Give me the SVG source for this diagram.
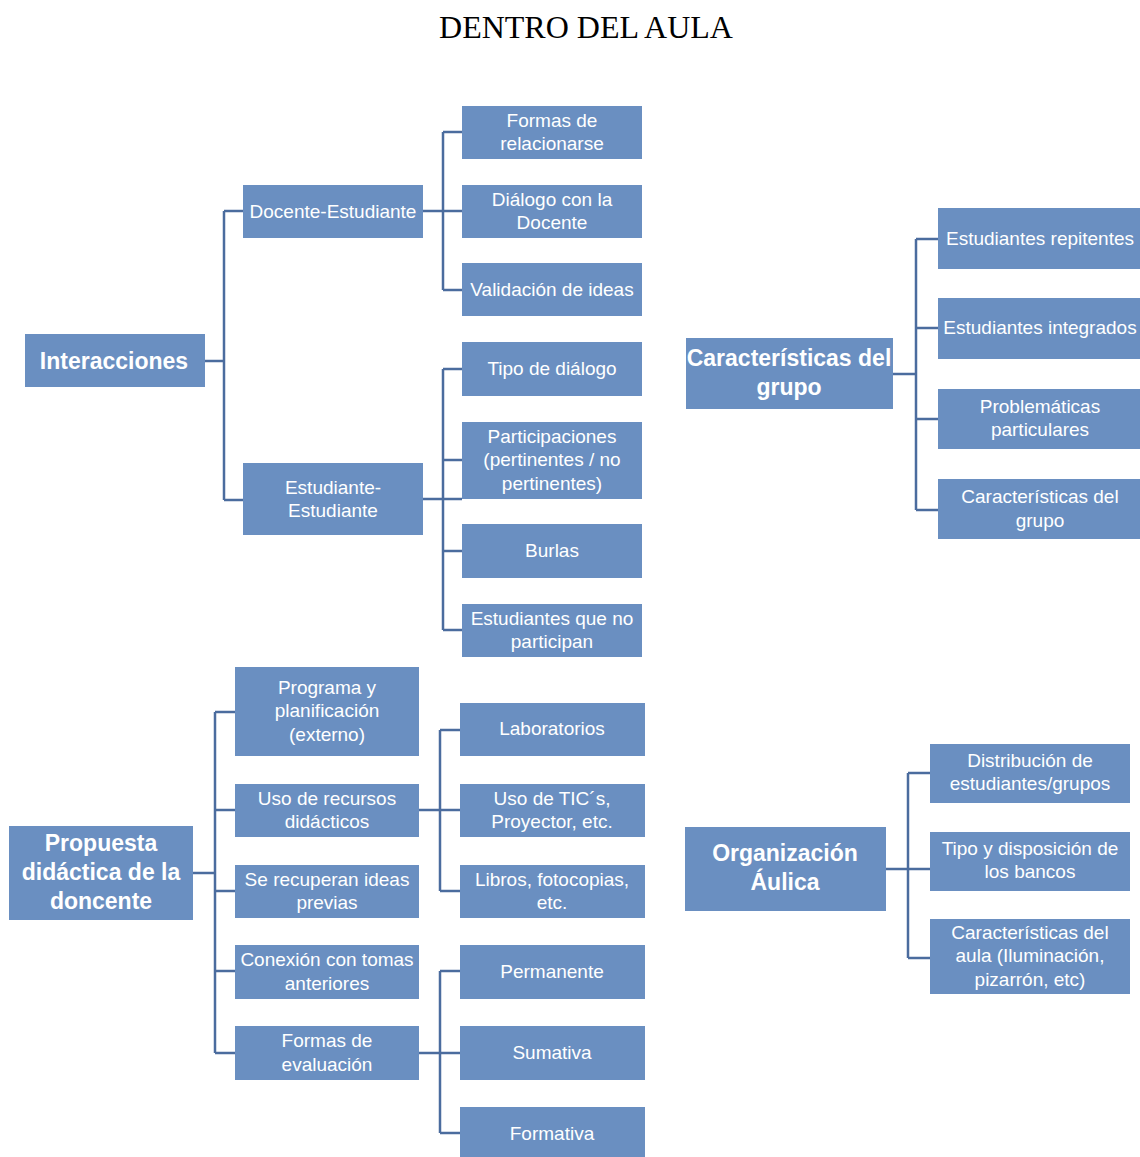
<svg xmlns="http://www.w3.org/2000/svg" width="1140" height="1157" viewBox="0 0 1140 1157">
<style>
.b{fill:#6a8fc1;}
.t{fill:#ffffff;font-family:"Liberation Sans",Arial,sans-serif;font-size:19px;text-anchor:middle;}
.h{fill:#ffffff;font-family:"Liberation Sans",Arial,sans-serif;font-size:23px;font-weight:bold;text-anchor:middle;}
.c{fill:none;stroke:#4b6c9e;stroke-width:2.5;}
</style>
<rect width="1140" height="1157" fill="#ffffff"/>
<text x="586" y="38" font-family="Liberation Serif,serif" font-size="32" text-anchor="middle" fill="#000">DENTRO DEL AULA</text>
<g id="connectors">
<path class="c" d="M205 361H224M224 211V500M224 211H243M224 500H243"/>
<path class="c" d="M423 211H462M443 132V290M443 132H462M443 290H462"/>
<path class="c" d="M423 499H462M443 369V630M443 369H462M443 460H462M443 551H462M443 630H462"/>
<path class="c" d="M893 374H916M916 239V510M916 239H938M916 328H938M916 419H938M916 510H938"/>
<path class="c" d="M193 873H215M215 712V1053M215 712H235M215 810H235M215 891H235M215 971H235M215 1053H235"/>
<path class="c" d="M419 810H460M440 730V891M440 730H460M440 891H460"/>
<path class="c" d="M419 1053H460M440 971V1133M440 971H460M440 1133H460"/>
<path class="c" d="M886 869H930M908 773V958M908 773H930M908 958H930"/>
</g>
<g id="interacciones"><rect class="b" x="25" y="334" width="180" height="53"/><text class="h" x="114" y="369">Interacciones</text></g>
<g id="docente-estudiante"><rect class="b" x="243" y="185" width="180" height="53"/><text class="t" x="333" y="218">Docente-Estudiante</text></g>
<g id="estudiante-estudiante"><rect class="b" x="243" y="463" width="180" height="72"/><text class="t" x="333" y="494">Estudiante-</text><text class="t" x="333" y="517">Estudiante</text></g>
<g id="formas-relacionarse"><rect class="b" x="462" y="106" width="180" height="53"/><text class="t" x="552" y="127">Formas de</text><text class="t" x="552" y="150">relacionarse</text></g>
<g id="dialogo-docente"><rect class="b" x="462" y="185" width="180" height="53"/><text class="t" x="552" y="206">Diálogo con la</text><text class="t" x="552" y="229">Docente</text></g>
<g id="validacion"><rect class="b" x="462" y="263" width="180" height="53"/><text class="t" x="552" y="296">Validación de ideas</text></g>
<g id="tipo-dialogo"><rect class="b" x="462" y="342" width="180" height="54"/><text class="t" x="552" y="375">Tipo de diálogo</text></g>
<g id="participaciones"><rect class="b" x="462" y="422" width="180" height="77"/><text class="t" x="552" y="443">Participaciones</text><text class="t" x="552" y="466">(pertinentes / no</text><text class="t" x="552" y="490">pertinentes)</text></g>
<g id="burlas"><rect class="b" x="462" y="524" width="180" height="54"/><text class="t" x="552" y="557">Burlas</text></g>
<g id="no-participan"><rect class="b" x="462" y="604" width="180" height="53"/><text class="t" x="552" y="625">Estudiantes que no</text><text class="t" x="552" y="648">participan</text></g>
<g id="caracteristicas-grupo"><rect class="b" x="686" y="338" width="207" height="71"/><text class="h" x="789" y="366">Características del</text><text class="h" x="789" y="395">grupo</text></g>
<g id="repitentes"><rect class="b" x="938" y="208" width="202" height="61"/><text class="t" x="1040" y="245">Estudiantes repitentes</text></g>
<g id="integrados"><rect class="b" x="938" y="298" width="202" height="61"/><text class="t" x="1040" y="334">Estudiantes integrados</text></g>
<g id="problematicas"><rect class="b" x="938" y="389" width="202" height="60"/><text class="t" x="1040" y="413">Problemáticas</text><text class="t" x="1040" y="436">particulares</text></g>
<g id="caracteristicas-grupo-2"><rect class="b" x="938" y="479" width="202" height="60"/><text class="t" x="1040" y="503">Características del</text><text class="t" x="1040" y="527">grupo</text></g>
<g id="propuesta"><rect class="b" x="9" y="826" width="184" height="94"/><text class="h" x="101" y="851">Propuesta</text><text class="h" x="101" y="880">didáctica de la</text><text class="h" x="101" y="909">doncente</text></g>
<g id="programa"><rect class="b" x="235" y="667" width="184" height="89"/><text class="t" x="327" y="694">Programa y</text><text class="t" x="327" y="717">planificación</text><text class="t" x="327" y="741">(externo)</text></g>
<g id="uso-recursos"><rect class="b" x="235" y="784" width="184" height="53"/><text class="t" x="327" y="805">Uso de recursos</text><text class="t" x="327" y="828">didácticos</text></g>
<g id="ideas-previas"><rect class="b" x="235" y="865" width="184" height="53"/><text class="t" x="327" y="886">Se recuperan ideas</text><text class="t" x="327" y="909">previas</text></g>
<g id="conexion"><rect class="b" x="235" y="945" width="184" height="54"/><text class="t" x="327" y="966">Conexión con tomas</text><text class="t" x="327" y="990">anteriores</text></g>
<g id="formas-evaluacion"><rect class="b" x="235" y="1026" width="184" height="54"/><text class="t" x="327" y="1047">Formas de</text><text class="t" x="327" y="1071">evaluación</text></g>
<g id="laboratorios"><rect class="b" x="460" y="703" width="185" height="53"/><text class="t" x="552" y="735">Laboratorios</text></g>
<g id="tics"><rect class="b" x="460" y="784" width="185" height="53"/><text class="t" x="552" y="805">Uso de TIC´s,</text><text class="t" x="552" y="828">Proyector, etc.</text></g>
<g id="libros"><rect class="b" x="460" y="865" width="185" height="53"/><text class="t" x="552" y="886">Libros, fotocopias,</text><text class="t" x="552" y="909">etc.</text></g>
<g id="permanente"><rect class="b" x="460" y="945" width="185" height="54"/><text class="t" x="552" y="978">Permanente</text></g>
<g id="sumativa"><rect class="b" x="460" y="1026" width="185" height="54"/><text class="t" x="552" y="1059">Sumativa</text></g>
<g id="formativa"><rect class="b" x="460" y="1107" width="185" height="50"/><text class="t" x="552" y="1140">Formativa</text></g>
<g id="organizacion"><rect class="b" x="685" y="827" width="201" height="84"/><text class="h" x="785" y="861">Organización</text><text class="h" x="785" y="890">Áulica</text></g>
<g id="distribucion"><rect class="b" x="930" y="744" width="200" height="59"/><text class="t" x="1030" y="767">Distribución de</text><text class="t" x="1030" y="790">estudiantes/grupos</text></g>
<g id="bancos"><rect class="b" x="930" y="832" width="200" height="59"/><text class="t" x="1030" y="855">Tipo y disposición de</text><text class="t" x="1030" y="878">los bancos</text></g>
<g id="caracteristicas-aula"><rect class="b" x="930" y="919" width="200" height="75"/><text class="t" x="1030" y="939">Características del</text><text class="t" x="1030" y="962">aula (Iluminación,</text><text class="t" x="1030" y="986">pizarrón, etc)</text></g>
</svg>
